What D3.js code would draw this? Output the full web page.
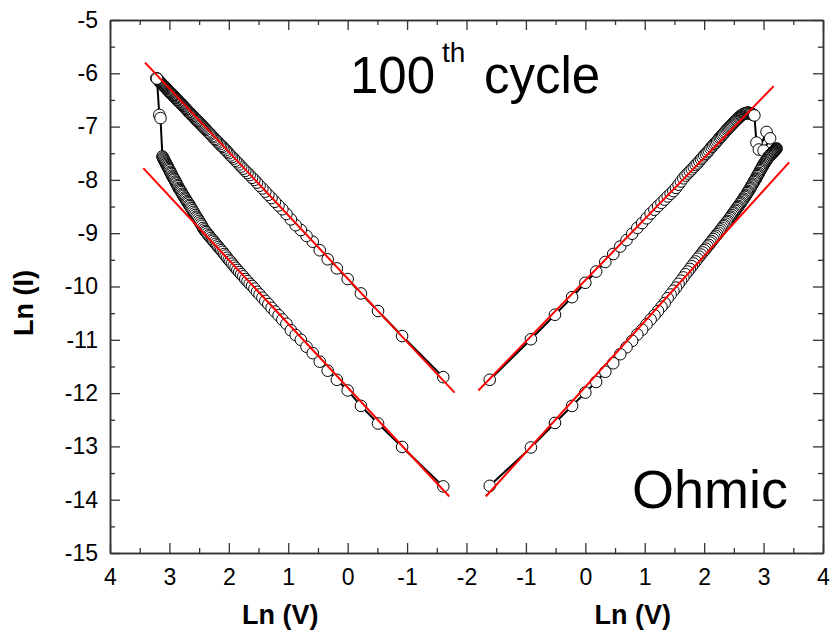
<!DOCTYPE html>
<html>
<head>
<meta charset="utf-8">
<script src="https://cdn.jsdelivr.net/npm/d3@7"></script>
<style>
body { margin: 0; background: #fff; }
svg { display: block; background: #fff; }
</style>
</head>
<body>
<svg width="831" height="636"></svg>
<script>

// Ln(V) of the sweep points, 0.2 V steps (same grid for every branch)
var sweepLnV = [-1.609,-0.916,-0.511,-0.223,0,0.182,0.336,0.470,0.588,0.693,
  0.788,0.875,0.956,1.030,1.099,1.163,1.224,1.281,1.335,1.386,
  1.435,1.482,1.526,1.569,1.609,1.649,1.686,1.723,1.758,1.792,
  1.825,1.856,1.887,1.917,1.946,1.974,2.001,2.028,2.054,2.079,
  2.104,2.128,2.152,2.175,2.197,2.219,2.241,2.262,2.282,2.303,
  2.322,2.342,2.361,2.380,2.398,2.416,2.434,2.451,2.468,2.485,
  2.501,2.518,2.534,2.549,2.565,2.580,2.595,2.610,2.625,2.639,
  2.653,2.667,2.681,2.695,2.708,2.721,2.734,2.747,2.760,2.773,
  2.785,2.797,2.809,2.821,2.833,2.845,2.856,2.868,2.879,2.890,
  2.901,2.912,2.923,2.934,2.944,2.955,2.965,2.976,2.986,2.996,
  3.006,3.016,3.025,3.035,3.045,3.054,3.063,3.073,3.082,3.091,
  3.100,3.109,3.118,3.127,3.135,3.144,3.153,3.161,3.170,3.178,
  3.186,3.195,3.203,3.211,3.219];

// negative side, low resistance branch
var negHighI = [-11.70,-10.93,-10.46,-10.13,-9.86,-9.66,-9.49,-9.32,-9.16,-9.05,
  -8.94,-8.85,-8.74,-8.64,-8.55,-8.48,-8.41,-8.34,-8.28,-8.22,
  -8.16,-8.11,-8.05,-8.00,-7.96,-7.91,-7.87,-7.83,-7.79,-7.75,
  -7.71,-7.67,-7.64,-7.60,-7.57,-7.54,-7.50,-7.47,-7.44,-7.41,
  -7.38,-7.36,-7.33,-7.30,-7.28,-7.25,-7.23,-7.20,-7.18,-7.15,
  -7.13,-7.11,-7.09,-7.06,-7.04,-7.02,-7.00,-6.98,-6.96,-6.94,
  -6.92,-6.90,-6.89,-6.87,-6.85,-6.83,-6.81,-6.80,-6.78,-6.76,
  -6.75,-6.73,-6.72,-6.70,-6.68,-6.67,-6.65,-6.64,-6.62,-6.61,
  -6.59,-6.58,-6.57,-6.55,-6.54,-6.53,-6.51,-6.50,-6.49,-6.47,
  -6.46,-6.45,-6.43,-6.42,-6.41,-6.40,-6.39,-6.37,-6.36,-6.35,
  -6.34,-6.33,-6.32,-6.30,-6.29,-6.28,-6.27,-6.26,-6.25,-6.24,
  -6.23,-6.22,-6.21,-6.20,-6.19,-6.18,-6.17,-6.16,-6.15,-6.14,
  -6.13,-6.12,-6.11,-6.10,-6.09];
// reset jump on negative side
var negJumpV = [3.21, 3.17, 3.15];
var negJumpI = [-6.10, -6.78, -6.84];
// negative side, high resistance branch (up to 22.6 V)
var negLowI = [-13.75,-13.01,-12.57,-12.24,-11.95,-11.75,-11.58,-11.41,-11.25,-11.13,
  -11.00,-10.91,-10.82,-10.70,-10.62,-10.54,-10.47,-10.40,-10.33,-10.27,
  -10.21,-10.15,-10.10,-10.04,-9.99,-9.95,-9.90,-9.86,-9.81,-9.77,
  -9.73,-9.69,-9.65,-9.61,-9.57,-9.53,-9.50,-9.46,-9.42,-9.39,
  -9.35,-9.32,-9.29,-9.26,-9.23,-9.20,-9.17,-9.14,-9.12,-9.09,
  -9.06,-9.04,-9.01,-8.98,-8.96,-8.93,-8.90,-8.86,-8.83,-8.80,
  -8.77,-8.74,-8.71,-8.69,-8.66,-8.63,-8.60,-8.57,-8.54,-8.52,
  -8.49,-8.47,-8.44,-8.42,-8.40,-8.37,-8.35,-8.33,-8.30,-8.28,
  -8.26,-8.23,-8.21,-8.19,-8.17,-8.15,-8.12,-8.10,-8.07,-8.05,
  -8.03,-8.00,-7.98,-7.96,-7.94,-7.92,-7.89,-7.87,-7.85,-7.82,
  -7.80,-7.78,-7.76,-7.74,-7.72,-7.70,-7.68,-7.66,-7.64,-7.62,
  -7.60,-7.58,-7.56];

// positive side, low resistance branch (up to 17.2 V)
var posHighI = [-11.75,-10.99,-10.53,-10.20,-9.93,-9.72,-9.54,-9.39,-9.25,-9.13,
  -9.01,-8.90,-8.81,-8.72,-8.63,-8.56,-8.49,-8.43,-8.37,-8.31,
  -8.26,-8.21,-8.15,-8.09,-8.03,-7.97,-7.92,-7.88,-7.84,-7.80,
  -7.76,-7.72,-7.69,-7.65,-7.61,-7.58,-7.54,-7.51,-7.48,-7.45,
  -7.41,-7.38,-7.35,-7.32,-7.30,-7.27,-7.24,-7.21,-7.19,-7.16,
  -7.14,-7.11,-7.09,-7.06,-7.04,-7.02,-7.00,-6.98,-6.96,-6.94,
  -6.92,-6.90,-6.88,-6.87,-6.85,-6.83,-6.82,-6.80,-6.79,-6.78,
  -6.77,-6.76,-6.76,-6.75,-6.75,-6.74,-6.74,-6.74,-6.75,-6.75,
  -6.76,-6.76,-6.77,-6.78,-6.78,-6.79];
// reset jump on positive side
var posJumpV = [2.88, 2.92, 3.05, 3.11, 3.00];
var posJumpI = [-7.30, -7.43, -7.10, -7.22, -7.45];
// positive side, high resistance branch
var posLowI = [-13.74,-13.02,-12.56,-12.24,-11.99,-11.79,-11.60,-11.44,-11.27,-11.14,
  -11.02,-10.90,-10.81,-10.71,-10.62,-10.54,-10.46,-10.38,-10.31,-10.22,
  -10.15,-10.08,-10.02,-9.95,-9.89,-9.83,-9.77,-9.72,-9.67,-9.62,
  -9.57,-9.53,-9.48,-9.44,-9.40,-9.36,-9.32,-9.29,-9.25,-9.22,
  -9.18,-9.15,-9.11,-9.08,-9.05,-9.02,-8.99,-8.96,-8.93,-8.90,
  -8.87,-8.85,-8.82,-8.79,-8.77,-8.74,-8.71,-8.69,-8.66,-8.63,
  -8.61,-8.58,-8.56,-8.53,-8.51,-8.49,-8.46,-8.44,-8.42,-8.39,
  -8.37,-8.35,-8.32,-8.30,-8.28,-8.25,-8.23,-8.21,-8.18,-8.16,
  -8.14,-8.11,-8.09,-8.07,-8.04,-8.02,-8.00,-7.98,-7.96,-7.93,
  -7.91,-7.89,-7.87,-7.84,-7.82,-7.80,-7.78,-7.76,-7.74,-7.72,
  -7.70,-7.68,-7.67,-7.65,-7.63,-7.62,-7.60,-7.59,-7.57,-7.56,
  -7.55,-7.54,-7.53,-7.52,-7.51,-7.50,-7.49,-7.48,-7.47,-7.46,
  -7.45,-7.44,-7.43,-7.42,-7.41];

// linear fits (end points in data units)
var fitNegV = [[3.41, -1.80], [3.44, -1.71]];
var fitNegI = [[-5.80, -11.99], [-7.78, -13.94]];
var fitPosV = [[-1.80, 3.17], [-1.675, 3.43]];
var fitPosI = [[-11.95, -6.24], [-13.94, -7.67]];

var xTicksNeg = [4, 3, 2, 1, 0, -1, -2];
var xMinorNeg = [3.5, 2.5, 1.5, 0.5, -0.5, -1.5];
var xTicksPos = [-1, 0, 1, 2, 3, 4];
var xMinorPos = [-1.5, -0.5, 0.5, 1.5, 2.5, 3.5];
var yTicks = [-15, -14, -13, -12, -11, -10, -9, -8, -7, -6, -5];
var yMinor = [-14.5, -13.5, -12.5, -11.5, -10.5, -9.5, -8.5, -7.5, -6.5, -5.5];

var FONT = "Arial, 'Liberation Sans', sans-serif";
var padL = 110, padR = 823, padT = 20, padB = 553;
var mid = (padL + padR) / 2;

var svg = d3.select('svg');

var xNeg = d3.scaleLinear().domain([4, -2]).range([padL, mid]);
var xPos = d3.scaleLinear().domain([-2, 4]).range([mid, padR]);
var y = d3.scaleLinear().domain([-15, -5]).range([padB, padT]);

function fmt(d) { return String(d); }

function styleAxis(g) {
  g.attr('font-size', 23).attr('font-family', FONT);
  g.select('.domain').attr('stroke', '#333').attr('stroke-width', 1.5);
  g.selectAll('.tick line').attr('stroke', '#333').attr('stroke-width', 1.3);
  g.selectAll('.tick text').attr('fill', '#000').attr('font-size', 23);
}

function addAxis(axis, tx, ty) {
  svg.append('g').attr('transform', 'translate(' + tx + ',' + ty + ')').call(axis).call(styleAxis);
}

// bottom
addAxis(d3.axisBottom(xNeg).tickValues(xTicksNeg).tickSizeInner(-10).tickSizeOuter(0).tickPadding(16).tickFormat(fmt), 0, padB);
addAxis(d3.axisBottom(xPos).tickValues(xTicksPos).tickSizeInner(-10).tickSizeOuter(0).tickPadding(16).tickFormat(fmt), 0, padB);
addAxis(d3.axisBottom(xNeg).tickValues(xMinorNeg).tickSizeInner(-5).tickSizeOuter(0).tickFormat(''), 0, padB);
addAxis(d3.axisBottom(xPos).tickValues(xMinorPos).tickSizeInner(-5).tickSizeOuter(0).tickFormat(''), 0, padB);
// top
addAxis(d3.axisTop(xNeg).tickValues(xTicksNeg).tickSizeInner(-10).tickSizeOuter(0).tickFormat(''), 0, padT);
addAxis(d3.axisTop(xPos).tickValues(xTicksPos).tickSizeInner(-10).tickSizeOuter(0).tickFormat(''), 0, padT);
addAxis(d3.axisTop(xNeg).tickValues(xMinorNeg).tickSizeInner(-5).tickSizeOuter(0).tickFormat(''), 0, padT);
addAxis(d3.axisTop(xPos).tickValues(xMinorPos).tickSizeInner(-5).tickSizeOuter(0).tickFormat(''), 0, padT);
// left / right
addAxis(d3.axisLeft(y).tickValues(yTicks).tickSizeInner(-10).tickSizeOuter(0).tickPadding(12).tickFormat(fmt), padL, 0);
addAxis(d3.axisLeft(y).tickValues(yMinor).tickSizeInner(-5).tickSizeOuter(0).tickFormat(''), padL, 0);
addAxis(d3.axisRight(y).tickValues(yTicks).tickSizeInner(-10).tickSizeOuter(0).tickFormat(''), padR, 0);
addAxis(d3.axisRight(y).tickValues(yMinor).tickSizeInner(-5).tickSizeOuter(0).tickFormat(''), padR, 0);

// build each panel's point sequence in sweep order
function zip(vs, is) {
  return is.map(function(v, i) { return { v: vs[i], i: v }; });
}
var negPts = zip(sweepLnV, negHighI)
  .concat(zip(negJumpV, negJumpI))
  .concat(zip(sweepLnV, negLowI).reverse());
var posPts = zip(sweepLnV, posHighI)
  .concat(zip(posJumpV, posJumpI))
  .concat(zip(sweepLnV, posLowI).reverse());

function drawPanel(pts, xs, fitV, fitI) {
  var line = d3.line().x(function(d) { return xs(d.v); }).y(function(d) { return y(d.i); });
  svg.append('path').datum(pts).attr('d', line)
    .attr('fill', 'none').attr('stroke', '#000').attr('stroke-width', 2);
  svg.append('g').selectAll('circle').data(pts).enter().append('circle')
    .attr('cx', function(d) { return xs(d.v); })
    .attr('cy', function(d) { return y(d.i); })
    .attr('r', 5.8)
    .attr('fill', '#fff').attr('stroke', '#000').attr('stroke-width', 1);
  for (var k = 0; k < fitV.length; ++k) {
    svg.append('line')
      .attr('x1', xs(fitV[k][0])).attr('y1', y(fitI[k][0]))
      .attr('x2', xs(fitV[k][1])).attr('y2', y(fitI[k][1]))
      .attr('stroke', '#ff0000').attr('stroke-width', 2);
  }
}

drawPanel(negPts, xNeg, fitNegV, fitNegI);
drawPanel(posPts, xPos, fitPosV, fitPosI);

// axis titles
svg.append('text').attr('transform', 'translate(33,303) rotate(-90)')
  .attr('text-anchor', 'middle').attr('font-family', FONT).attr('font-size', 27).attr('font-weight', 'bold')
  .text('Ln (I)');
svg.append('text').attr('x', (padL + mid) / 2 - 8).attr('y', 624)
  .attr('text-anchor', 'middle').attr('font-family', FONT).attr('font-size', 27).attr('font-weight', 'bold')
  .text('Ln (V)');
svg.append('text').attr('x', (mid + padR) / 2 - 12).attr('y', 624)
  .attr('text-anchor', 'middle').attr('font-family', FONT).attr('font-size', 27).attr('font-weight', 'bold')
  .text('Ln (V)');

// annotations
svg.append('text').attr('x', 350).attr('y', 93).attr('font-family', FONT).attr('font-size', 51).text('100');
svg.append('text').attr('x', 442).attr('y', 62).attr('font-family', FONT).attr('font-size', 28).text('th');
svg.append('text').attr('x', 484).attr('y', 93).attr('font-family', FONT).attr('font-size', 51).text('cycle');
svg.append('text').attr('x', 632).attr('y', 508).attr('font-family', FONT).attr('font-size', 54).text('Ohmic');

</script>
</body>
</html>
